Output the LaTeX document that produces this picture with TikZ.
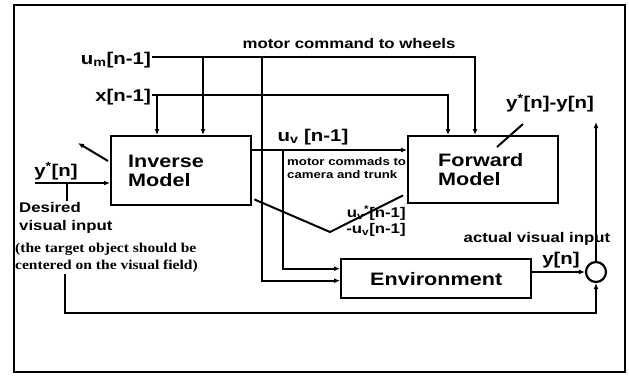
\documentclass[tikz,border=0pt]{standalone}
\usepackage{fontspec}
\setmainfont{Liberation Serif}[FakeStretch=1.15]
\setsansfont{Liberation Sans}[FakeStretch=1.2]
\usetikzlibrary{arrows.meta,positioning,calc}
\tikzset{
  block/.style={draw, line width=2.4pt, anchor=north west, align=left,
                font=\sffamily\bfseries\fontsize{18}{19}\selectfont},
  junction/.style={draw, circle, line width=2.2pt, minimum size=20pt, inner sep=0pt},
  lbl/.style={font=\sffamily\bfseries\fontsize{17}{18}\selectfont, inner sep=1pt},
  tag/.style={font=\sffamily\bfseries\fontsize{14}{18}\selectfont, inner sep=1pt, align=left},
  small/.style={font=\sffamily\bfseries\fontsize{11}{13}\selectfont, inner sep=1pt, align=left},
  note/.style={font=\bfseries\fontsize{13.5}{17}\selectfont, inner sep=1pt, align=left},
  wire/.style={line width=2pt},
  arrow/.style={-{Latex[length=6pt,width=5pt]}, line width=2pt}
}

\begin{document}
\begin{tikzpicture}[x=1pt, y=-1pt]
  \useasboundingbox (0,0) rectangle (629,375);
  \draw[line width=2.4pt] (14,5) rectangle (625,372);

  % blocks
  \node[block, minimum width=140pt, minimum height=69pt, text width=106pt, inner xsep=17pt] (inv) at (110,135) {Inverse\\Model};
  \node[block, minimum width=143pt, minimum height=67pt, text width=90pt, inner xsep=30pt] (fwd) at (407,135) {Forward\\Model};
  \node[block, minimum width=190pt, minimum height=39pt, align=center] (env) at (340,258) {Environment};
  \node[junction] (sum) at (596,272) {};

  % labels
  \node[tag] (wheels) at (349,43) {motor command to wheels};
  \node[lbl, anchor=east] (um) at (152,60) {u\textsubscript{m}[n-1]};
  \node[lbl, anchor=east] (xl) at (152,97) {x[n-1]};
  \node[lbl] (uvl) at (313,137) {u\textsubscript{v} [n-1]};
  \node[small, anchor=north west] (cam) at (286,156) {motor commads to\\camera and trunk};
  \node[lbl] (ystar) at (56,171) {y\textsuperscript{*}[n]};
  \node[tag, anchor=north west] (des) at (18,201) {Desired\\visual input};
  \node[note, anchor=north west] (target) at (14,242) {(the target object should be\\centered on the visual field)};
  \node[small, font=\sffamily\bfseries\fontsize{14}{16}\selectfont, align=right] (uverr) at (376,221) {u\textsubscript{v}\textsuperscript{*}[n-1]\\-u\textsubscript{v}[n-1]};
  \node[tag] (actual) at (537,239) {actual visual input};
  \node[lbl] (yn) at (561,260) {y[n]};
  \node[lbl] (errl) at (550,103) {y\textsuperscript{*}[n]-y[n]};

  % junction points
  \coordinate (jm) at (203,57);
  \coordinate (jw) at (262,57);
  \coordinate (xa) at (157,95);
  \coordinate (uv) at (283,150);
  \coordinate (yin) at (35,183);
  \coordinate (yj) at (67,183);
  \coordinate (fb) at (65,313);
  \coordinate (vb) at (330,232);
  \coordinate (err) at (596,122);
  \coordinate (fe) at (523,124);
  \coordinate (ia) at (78,143);

  % connectors
  \draw[wire] (um.east |- jm) -- (jm) -- (jw);
  \draw[arrow] (jm) -- (jm |- inv.north);
  \draw[arrow] (jw) -| ($(fwd.north west)+(68,0)$);
  \draw[arrow] (jw) |- ($(env.west)+(0,2)$);
  \draw[arrow] (xl.east |- xa) -- (xa) -- (xa |- inv.north);
  \draw[arrow] (xa) -| ($(fwd.north west)+(41,0)$);
  \draw[arrow] (uv -| inv.east) -- (uv -| fwd.west);
  \draw[arrow] (uv) |- ($(env.west)+(0,-10)$);
  \draw[arrow] (yin) -- (yin -| inv.west);
  \draw[wire] (yj) -- (yj |- des.north);
  \draw[arrow] ($(inv.north west)+(-2,26)$) -- (ia);
  \draw[wire] ($(inv.south east)+(2,-7)$) -- (vb) -- ($(fwd.south west)+(-4,-9)$);
  \draw[wire] (fe) -- ($(fwd.north west)+(90,12)$);
  \draw[arrow] (env.east |- sum.west) -- (sum.west);
  \draw[arrow] (sum.north) -- (err);
  \draw[arrow] (fb |- target.south) -- (fb) -| (sum.south);
\end{tikzpicture}
\end{document}
